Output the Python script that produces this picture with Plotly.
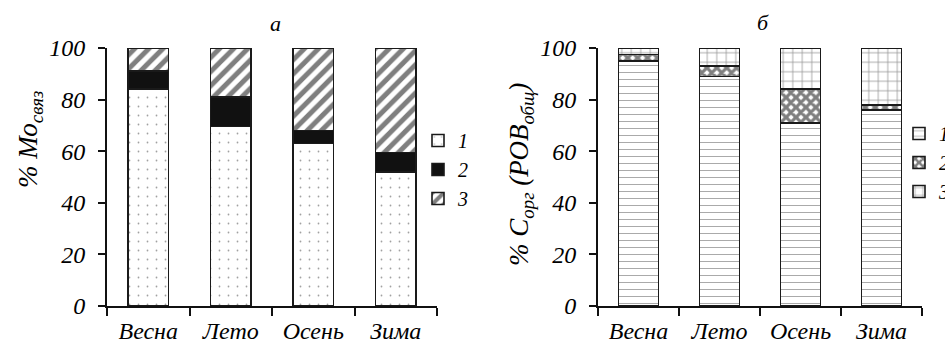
import plotly.graph_objects as go

# Seasons on the category axis
seasons = ["Весна", "Лето", "Осень", "Зима"]

# Panel a: share of bound Mo, % (fractions 1, 2, 3)
mo_frac1 = [84.0, 69.5, 63.0, 52.0]
mo_frac2 = [7.0, 11.5, 5.0, 7.5]
mo_frac3 = [9.0, 19.0, 32.0, 40.5]

# Panel б: share of C_org (DOM total), % (fractions 1, 2, 3)
c_frac1 = [95.0, 89.0, 71.0, 76.0]
c_frac2 = [2.5, 4.0, 13.0, 2.0]
c_frac3 = [2.5, 7.0, 16.0, 22.0]

legend_names = ["1", "2", "3"]

SERIF = "Liberation Serif"
W, H = 945, 344
OUTLINE = dict(color="#1a1a1a", width=1.6)

def ital(size):
    return dict(family=SERIF, size=size, style="italic", color="black")

patterns_a = [
    dict(shape=".", size=9, solidity=0.03, fgcolor="#444", bgcolor="white", fillmode="overlay"),
    None,
    dict(shape="/", size=10, solidity=0.5, fgcolor="#000", bgcolor="white", fillmode="overlay"),
]
colors_a = ["white", "#111111", "white"]

patterns_b = [
    dict(shape="-", size=7, solidity=0.15, fgcolor="#555", bgcolor="white", fillmode="overlay"),
    dict(shape="x", size=7, solidity=0.7, fgcolor="#000", bgcolor="white", fillmode="overlay"),
    dict(shape="+", size=9.5, solidity=0.15, fgcolor="#222", bgcolor="white", fillmode="overlay"),
]
colors_b = ["white", "white", "white"]

fig = go.Figure()

for vals, name, pat, col in zip([mo_frac1, mo_frac2, mo_frac3], legend_names, patterns_a, colors_a):
    marker = dict(color=col, line=OUTLINE)
    if pat is not None:
        marker["pattern"] = pat
    fig.add_trace(go.Bar(x=seasons, y=vals, name=name, marker=marker,
                         xaxis="x", yaxis="y", legend="legend"))

for vals, name, pat, col in zip([c_frac1, c_frac2, c_frac3], legend_names, patterns_b, colors_b):
    fig.add_trace(go.Bar(x=seasons, y=vals, name=name,
                         marker=dict(color=col, line=OUTLINE, pattern=pat),
                         xaxis="x2", yaxis="y2", legend="legend2"))

ydom = [(H - 306) / H, (H - 48) / H]

xaxis_common = dict(
    type="category", range=[-0.5, 3.5], showline=True, linecolor="#111", linewidth=2,
    ticks="outside", tickson="boundaries", ticklen=8, tickwidth=2, tickcolor="#111",
    tickfont=ital(24), showgrid=False, zeroline=False, fixedrange=True,
    ticklabelstandoff=2,
)
yaxis_common = dict(
    range=[0, 100], tickvals=[0, 20, 40, 60, 80, 100], showline=True, linecolor="#111",
    linewidth=2, ticks="outside", ticklen=7, tickwidth=2, tickcolor="#111",
    tickfont=ital(24), showgrid=False, zeroline=False, ticklabelstandoff=8,
)

fig.update_layout(
    width=W, height=H,
    margin=dict(l=0, r=0, t=0, b=0, autoexpand=False),
    paper_bgcolor="white", plot_bgcolor="white",
    barmode="stack", bargap=0.51,
    xaxis=dict(domain=[107 / W, 437 / W], anchor="y", **xaxis_common),
    yaxis=dict(domain=ydom, anchor="x", **yaxis_common),
    xaxis2=dict(domain=[598 / W, 922 / W], anchor="y2", **xaxis_common),
    yaxis2=dict(domain=ydom, anchor="x2", **yaxis_common),
    legend=dict(x=418 / W, y=(H - 121) / H, xanchor="left", yanchor="top",
                traceorder="normal", font=ital(20), bgcolor="rgba(0,0,0,0)",
                itemwidth=30, tracegroupgap=0),
    legend2=dict(x=899 / W, y=(H - 114) / H, xanchor="left", yanchor="top",
                 traceorder="normal", font=ital(20), bgcolor="rgba(0,0,0,0)",
                 itemwidth=30, tracegroupgap=0),
    showlegend=True,
)

annotations = [
    dict(text="а", x=275, y=H - 23),
    dict(text="б", x=763, y=H - 22),
]
for a in annotations:
    fig.add_annotation(text=a["text"], x=a["x"] / W, y=a["y"] / H, xref="paper", yref="paper",
                       showarrow=False, font=ital(22), xanchor="center", yanchor="middle")

# Rotated axis titles with subscripts
fig.add_annotation(text="% Мо<sub>связ</sub>", x=30 / W, y=(H - 140) / H,
                   xref="paper", yref="paper", showarrow=False, textangle=-90,
                   font=ital(27), xanchor="center", yanchor="middle")
fig.add_annotation(text="% С<sub>орг</sub> (РОВ<sub>общ</sub>)", x=521 / W, y=(H - 175) / H,
                   xref="paper", yref="paper", showarrow=False, textangle=-90,
                   font=ital(27), xanchor="center", yanchor="middle")

fig.write_html("out.html")
